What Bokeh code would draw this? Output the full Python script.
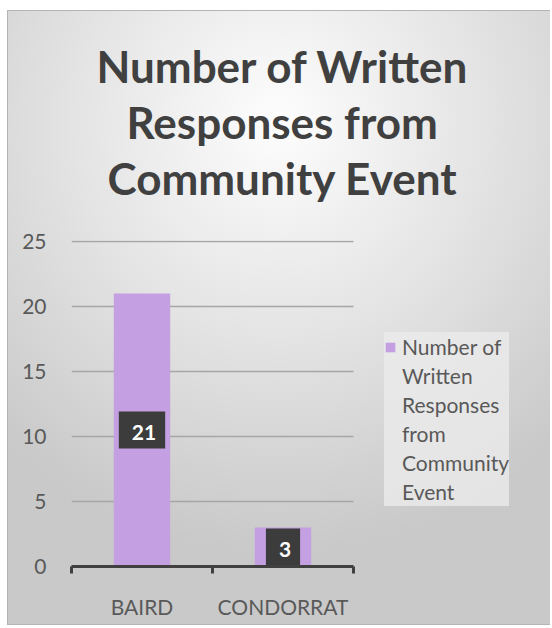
from bokeh.plotting import figure
from bokeh.models import (ColumnDataSource, Legend, LegendItem, Title, FixedTicker,
                          Range1d)
from bokeh.core.properties import value
from bokeh.embed import file_html
from bokeh.resources import INLINE

# ---- data ----
categories = ["BAIRD", "CONDORRAT"]
responses = [21, 3]
series_label_lines = ["Number of", "Written", "Responses", "from", "Community", "Event"]
title_lines = ["Number of Written", "Responses from", "Community Event"]
y_ticks = [0, 5, 10, 15, 20, 25]

# ---- layout constants (pixels) ----
FONT = "Lato"
FIG_W, FIG_H = 543, 615
BORDER_L, BORDER_R, BORDER_T, BORDER_B = 63, 2, 229, 60
CAT_PX = 141                       # pixel width of one category band
title_offsets = [25, 55, 36]

frame_w = FIG_W - BORDER_L - BORDER_R
x_end = frame_w / CAT_PX           # frame also hosts the legend on the right

xs = [i + 0.5 for i in range(len(categories))]
src = ColumnDataSource(dict(
    x=xs, cat=categories, v=responses,
    ly=[v / 2 for v in responses],
    txt=[str(v) for v in responses],
))

p = figure(width=FIG_W, height=FIG_H,
           x_range=Range1d(0, x_end), y_range=Range1d(0, 25.08),
           output_backend="svg", toolbar_location=None, title=None,
           min_border_left=BORDER_L, min_border_right=BORDER_R,
           min_border_top=BORDER_T, min_border_bottom=BORDER_B)

p.styles = {
    "margin-left": "7px",
    "margin-top": "10px",
    "background": "radial-gradient(ellipse 75% 70% at 50% 18%, #fdfdfd 0%, #e4e4e4 50%, #c9c9c9 100%)",
    "border-top": "1px solid #b4b4b4",
    "border-left": "1px solid #b4b4b4",
    "border-bottom": "1px solid #b4b4b4",
}
p.border_fill_alpha = 0
p.background_fill_alpha = 0
p.outline_line_color = None

# spacer between plot frame and title block
p.add_layout(Title(text=" ", text_font_size="29px", standoff=2), "above")
# title lines (innermost first)
for line, off in reversed(list(zip(title_lines, title_offsets))):
    p.add_layout(Title(text=line, align="left", offset=off, text_font=FONT,
                       text_font_size="44px", text_font_style="bold",
                       text_color="#404040", standoff=2), "above")

# horizontal gridlines across the category area only
p.segment(x0=0, x1=len(categories), y0=y_ticks, y1=y_ticks,
          line_color="#a6a6a6", line_width=1.5)

bars = p.vbar(x="x", top="v", width=0.4, source=src,
              fill_color="#c49fe1", line_color=None)
blank = p.scatter(x=[], y=[], fill_alpha=0, line_alpha=0)

p.text(x="x", y="ly", text="txt", source=src,
       text_align="center", text_baseline="middle",
       text_font=value(FONT), text_font_size="21px",
       text_font_style="bold", text_color="white",
       background_fill_color="#3c3c3c",
       padding=(13, 9, 13, 9))

# axes
xa = p.xaxis[0]
xa.bounds = (0, len(categories))
xa.ticker = FixedTicker(ticks=xs, minor_ticks=list(range(len(categories) + 1)))
xa.major_label_overrides = {x: c for x, c in zip(xs, categories)}
xa.major_tick_out = 0
xa.major_tick_in = 0
xa.minor_tick_out = 7
xa.minor_tick_in = 0
xa.minor_tick_line_color = "#404040"
xa.minor_tick_line_width = 3
xa.axis_line_color = "#404040"
xa.axis_line_width = 3
xa.major_label_text_font = FONT
xa.major_label_text_font_size = "21px"
xa.major_label_text_color = "#595959"
xa.major_label_standoff = 20

ya = p.yaxis[0]
ya.ticker = FixedTicker(ticks=y_ticks)
ya.axis_line_color = None
ya.major_tick_line_color = None
ya.minor_tick_line_color = None
ya.major_label_text_font = FONT
ya.major_label_text_font_size = "21px"
ya.major_label_text_color = "#595959"
ya.major_label_standoff = 19

p.xgrid.grid_line_color = None
p.ygrid.grid_line_color = None

items = [LegendItem(label=t, renderers=[bars if i == 0 else blank])
         for i, t in enumerate(series_label_lines)]
legend = Legend(items=items, location=(313, 60), padding=12, margin=0,
                label_text_font=FONT, label_text_font_size="21px",
                label_text_color="#595959", label_height=29, spacing=0,
                glyph_width=12, glyph_height=12, label_standoff=6,
                background_fill_color="#ebebeb", background_fill_alpha=0.8,
                border_line_color=None)
p.add_layout(legend)

open("out.html", "w").write(file_html(p, INLINE))
